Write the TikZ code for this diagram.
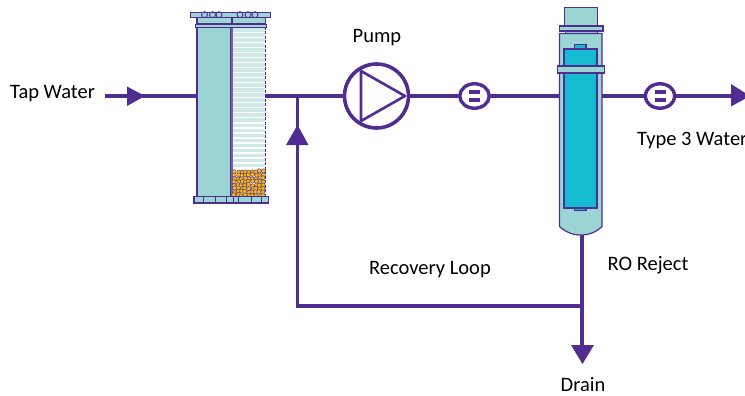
\documentclass[tikz,border=0pt]{standalone}
\usepackage{fontspec}
\setmainfont{Carlito}
\usetikzlibrary{shapes.geometric}
\definecolor{linecol}{HTML}{4F2D91}
\definecolor{tealcol}{HTML}{9BD5D3}
\definecolor{cyancol}{HTML}{15BCD1}
\definecolor{stripecol}{HTML}{CFE9E8}
\definecolor{beadcol}{HTML}{F9B90F}
\tikzset{
  pipe/.style={draw=linecol,line width=3.8pt},
  part/.style={draw=linecol,fill=tealcol,line width=1.2pt},
  inner/.style={draw=linecol,fill=cyancol,line width=1.2pt},
  head/.style={fill=linecol},
  meter/.style={draw=linecol,fill=white,line width=3.4pt,ellipse,
    minimum width=29.5pt,minimum height=24.5pt,inner sep=0pt},
  lbl/.style={text=black,font=\fontsize{20.5}{24}\selectfont,inner sep=0pt}
}
\begin{document}
\begin{tikzpicture}[x=1pt,y=-1pt]

  \useasboundingbox (0,0) rectangle (745,396);

  \coordinate (tapin) at (105,96);
  \coordinate (filterin) at (197,96);
  \coordinate (filterout) at (265,96);
  \coordinate (pumpin) at (344,96);
  \coordinate (roin) at (559,96);
  \coordinate (roout) at (602,96);
  \coordinate (outlet) at (735,96);
  \coordinate (tee) at (297.5,96);
  \coordinate (rodrain) at (582,232);
  \coordinate (corner) at (297.5,306);
  \coordinate (split) at (582,306);
  \coordinate (drain) at (582,346);
  \coordinate (looptip) at (297.5,128);

  % pipes
  \draw[pipe] (tapin) -- (filterin);
  \draw[pipe] (filterout) -- (pumpin);
  \draw[pipe] (tee) -- (looptip);
  \draw[pipe] (rodrain) -- (drain);
  \draw[pipe] (split) -- (corner) -- (looptip);

  % pump
  \node[circle,draw=linecol,fill=white,line width=3.6pt,minimum size=64pt,inner sep=0pt] (pump) at (376.5,96) {};
  \draw[linecol,line width=2.6pt,line join=round] (361,71) -- (405,96) -- (361,121) -- cycle;

  % flow meters
  \node[meter] (meterA) at (474.5,96) {};
  \node[meter] (meterB) at (660,96) {};
  \draw[pipe] (pump) -- (meterA);
  \draw[pipe] (meterA) -- (roin);
  \draw[pipe] (roout) -- (meterB);
  \draw[pipe] (meterB) -- (outlet);
  \foreach \m in {meterA,meterB} {
    \fill[linecol] ([shift={(-5.5,-6)}]\m.center) rectangle ([shift={(5.5,-1.5)}]\m.center);
    \fill[linecol] ([shift={(-5.5,1.7)}]\m.center) rectangle ([shift={(5.5,6)}]\m.center);
  }

  % arrow heads
  \fill[head] (127,86.5) -- (145,96) -- (127,106) -- cycle;
  \fill[head] (731,84) -- (750,96) -- (731,106.5) -- cycle;
  \fill[head] (297.5,125) -- (308.5,145) -- (286,145) -- cycle;
  \fill[head] (571,345) -- (594,345) -- (582.5,364) -- cycle;

  % filter
  \filldraw[part] (197,27) rectangle (231,197);
  \fill[white] (232,27) rectangle (265,170);
  \foreach \y in {28.5,33.5,...,165}
    \fill[stripecol] (232.5,\y) rectangle (265,\y+3.6);
  \draw[linecol!75,line width=1.4pt] (232,27) -- (232,197);
  \draw[linecol,line width=1.8pt,dash pattern=on 3pt off 1.5pt] (265.5,27) -- (265.5,197);
  \filldraw[part] (197,17) rectangle (231.5,24);
  \filldraw[part] (232.5,17) rectangle (265.5,24);
  \filldraw[part] (195.5,24.5) rectangle (266.5,27.5);
  \filldraw[part] (190.5,12.5) rectangle (270.5,17.5);
  \foreach \x in {204.5,212.5,219,240,248,255}
    \draw[linecol,line width=0.9pt] (\x,14.7) circle (3);

  % media
  \pgfmathsetseed{41}
  \foreach \i in {0,...,7} {
    \foreach \j in {0,...,8} {
      \pgfmathsetmacro{\bx}{234.5+\j*3.6+rand*0.8}
      \pgfmathsetmacro{\by}{171.5+\i*3.4+rand*0.8}
      \filldraw[draw=linecol,fill=beadcol,line width=0.4pt] (\bx,\by) circle (2.1);
    }
  }

  % bottom plate
  \filldraw[part] (194,196.5) rectangle (268.5,203);
  \foreach \x in {203,215,226,233,238,251,261}
    \draw[linecol,line width=1pt] (\x,196.5) -- (\x,203);

  % RO vessel
  \filldraw[part] (564.5,7.5) rectangle (597.5,26);
  \filldraw[part,line width=0.8pt] (565,31) rectangle (597,33.5);
  \filldraw[part] (559.5,26) rectangle (603,31);
  \filldraw[part] (559.5,33.5) -- (602,33.5) -- (602,226.5)
    .. controls (590,238) and (572,238) .. (559.5,226.5) -- cycle;
  \filldraw[inner] (574.5,44.5) rectangle (586,49);
  \filldraw[inner] (564,49) rectangle (597,208);
  \filldraw[inner] (574.5,208) rectangle (586,210.5);
  \filldraw[part] (557.5,66) rectangle (604.5,73);

  % labels
  \node[lbl] (taplbl) at (52.5,94) {Tap Water};
  \node[lbl] (pumplbl) at (377,38) {Pump};
  \node[lbl,anchor=west] (typelbl) at (637,140) {Type 3 Water};
  \node[lbl] (rejectlbl) at (648,265) {RO Reject};
  \node[lbl] (looplbl) at (430,270) {Recovery Loop};
  \node[lbl] (drainlbl) at (583,385) {Drain};

\end{tikzpicture}
\end{document}
